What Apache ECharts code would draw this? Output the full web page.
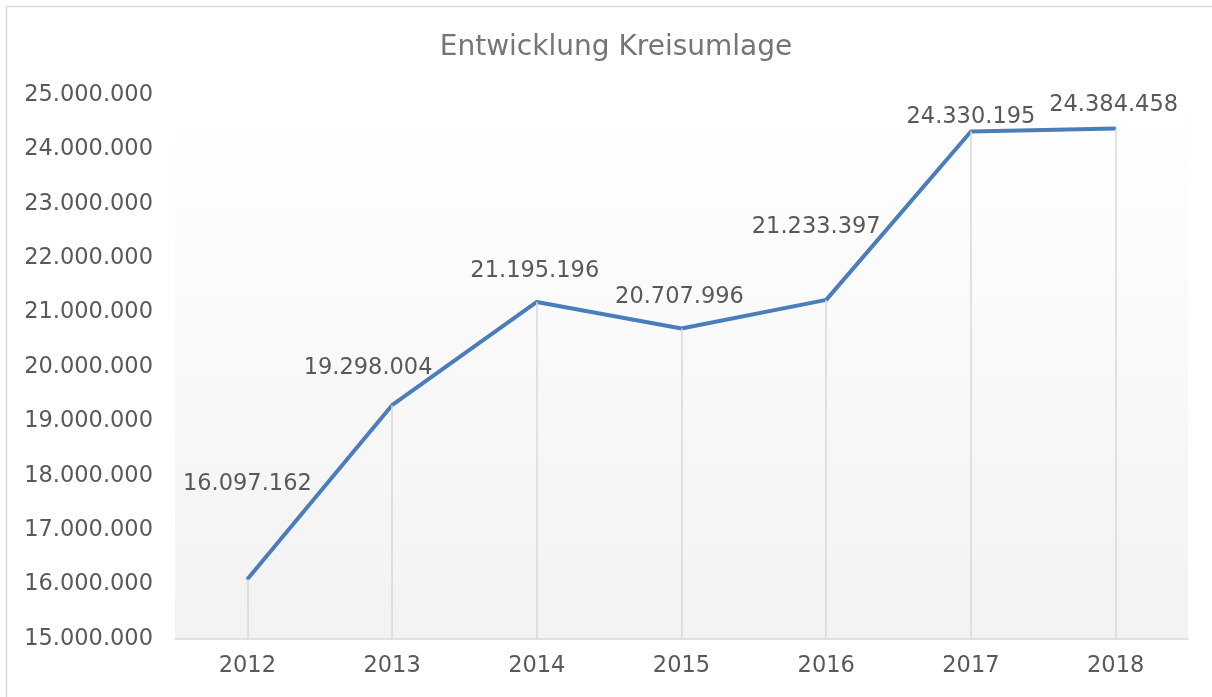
<!DOCTYPE html>
<html>
<head>
<meta charset="utf-8">
<script src="https://cdn.jsdelivr.net/npm/echarts@6/dist/echarts.min.js"></script>
<style>
  html, body { margin: 0; padding: 0; background: #fff; }
  #main { width: 1212px; height: 697px; }
</style>
</head>
<body>
<div id="main"></div>
<script>
var years = ["2012", "2013", "2014", "2015", "2016", "2017", "2018"];
var kreisumlage = [16097162, 19298004, 21195196, 20707996, 21233397, 24330195, 24384458];

function fmt(v) {
  return String(Math.round(v)).replace(/\B(?=(\d{3})+(?!\d))/g, ".");
}

// label offsets like the Excel chart (manually placed labels)
var labelShift = [[0, -75], [-24, -17], [-2, -10], [-2, -11], [-10, -52], [0, 6], [-2, -3]];

var chartDom = document.getElementById("main");
var myChart = echarts.init(chartDom);
var option;

option = {
  textStyle: { fontFamily: "DejaVu Sans" },
  graphic: [
    {
      type: "rect",
      shape: { x: 6.5, y: 6.5, width: 1240, height: 720 },
      style: { fill: "none", stroke: "#d9d9d9", lineWidth: 1.5 },
      silent: true,
    },
  ],
  title: {
    text: "Entwicklung Kreisumlage",
    left: 611,
    textAlign: "center",
    top: 29,
    textStyle: { fontSize: 28, fontWeight: "normal", color: "#757575", fontFamily: "DejaVu Sans" },
  },
  grid: {
    left: 175,
    right: 24,
    top: 95,
    bottom: 58,
    show: true,
    borderWidth: 0,
    backgroundColor: new echarts.graphic.LinearGradient(0, 0, 0, 1, [
      { offset: 0, color: "#ffffff" },
      { offset: 1, color: "#f2f2f2" },
    ]),
  },
  xAxis: {
    type: "category",
    data: years,
    boundaryGap: true,
    axisLine: { lineStyle: { color: "#d9d9d9", width: 1.5 } },
    axisTick: { show: false },
    axisLabel: { color: "#595959", fontSize: 22.5, margin: 16 },
  },
  yAxis: {
    type: "value",
    min: 15000000,
    max: 25000000,
    interval: 1000000,
    axisLine: { show: false },
    axisTick: { show: false },
    splitLine: { show: false },
    axisLabel: { color: "#595959", fontSize: 22.5, margin: 22, formatter: fmt },
  },
  series: [
    {
      name: "Kreisumlage",
      type: "line",
      data: kreisumlage.map(function (v, i) {
        return { value: v, label: { offset: labelShift[i] } };
      }),
      showSymbol: true,
      symbol: "circle",
      symbolSize: 2,
      itemStyle: { color: "#4a7ebb" },
      lineStyle: { color: "#4a7ebb", width: 4 },
      label: {
        show: true,
        position: "top",
        distance: 8,
        color: "#595959",
        fontSize: 22.5,
        formatter: function (p) { return fmt(p.value); },
      },
      markLine: {
        silent: true,
        symbol: "none",
        label: { show: false },
        lineStyle: { color: "#d9d9d9", width: 1.5, type: "solid" },
        data: kreisumlage.map(function (v, i) {
          return [{ coord: [i, v] }, { coord: [i, 15000000] }];
        }),
      },
      z: 3,
    },
  ],
};

option && myChart.setOption(option);
</script>
</body>
</html>
